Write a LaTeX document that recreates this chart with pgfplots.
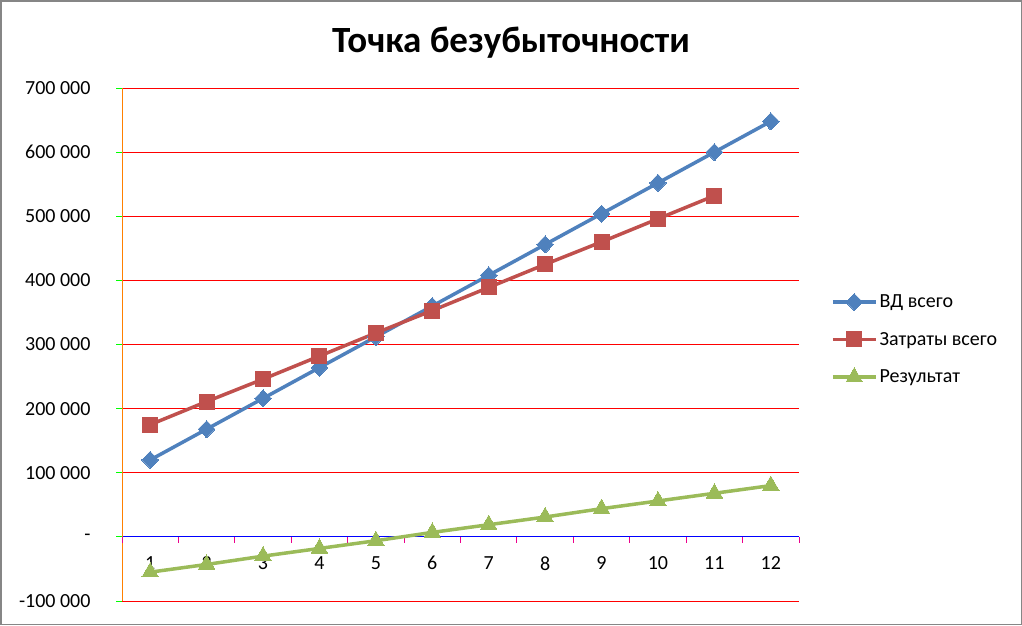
\documentclass[border=0pt]{standalone}
\usepackage{pgfplots}
\pgfplotsset{compat=1.18}
\usepackage{fontspec}
\setmainfont{Carlito}
\definecolor{cvd}{HTML}{4F81BD}
\definecolor{cz}{HTML}{C0504D}
\definecolor{cr}{HTML}{9BBB59}
\definecolor{gridc}{HTML}{868686}
\pgfplotsset{layers/labelsontop/.define layer set={axis background,axis grid,axis ticks,axis lines,main,axis tick labels,axis descriptions,axis foreground}{}}
\begin{document}
\begin{tikzpicture}
\fill[white] (0pt,0pt) rectangle (1022pt,-625pt);
\draw[gridc, line width=1.5pt] (0.75pt,-0.75pt) rectangle (1021.25pt,-624.25pt);
\node[font=\fontsize{37}{40}\selectfont\bfseries] at (511pt,-43pt) {Точка безубыточности};
\begin{axis}[
  set layers=labelsontop,
  at={(122pt,-601pt)}, anchor=south west,
  width=677pt, height=513pt, scale only axis,
  xmin=0.5, xmax=12.5, ymin=-100000, ymax=700000,
  axis x line*=middle, axis y line*=left,
  x axis line style={-, draw=blue, line width=1pt},
  y axis line style={-, draw=orange, line width=1pt},
  xtick pos=left, ytick pos=left,
  scaled y ticks=false,
  hide obscured x ticks=false, hide obscured y ticks=false,
  xtick={1,...,12},
  minor xtick={0.5,1.5,...,12.5},
  major x tick style={draw=none},
  minor x tick style={draw=none},
  y tick style={draw=green, line width=1pt},
  tick align=outside,
  major tick length=6pt, minor tick length=6pt,
  ytick={-100000,0,100000,200000,300000,400000,500000,600000,700000},
  yticklabels={-100 000,-,100 000,200 000,300 000,400 000,500 000,600 000,700 000},
  xticklabels={1,2,3,4,5,6,7,8,9,10,11,12},
  ticklabel style={font=\fontsize{20}{24}\selectfont},
  xticklabel style={yshift=-10pt},
  yticklabel style={xshift=-22pt, anchor=east},
  ymajorgrids, grid style={draw=red, line width=1pt},
  clip=false,
  legend style={at={(axis description cs:1.047,0.601)}, anchor=north west, draw=none, fill=none,
    font=\fontsize{20}{24}\selectfont, row sep=19pt, inner sep=0pt,
    nodes={inner sep=2pt}},
  legend cell align=left,
  legend image code/.code={\draw[mark repeat=2, mark phase=2, #1] plot coordinates {(0pt,0pt) (21.5pt,0pt) (43pt,0pt)};},
]
\pgfplotsinvokeforeach{0.5,1.5,2.5,3.5,4.5,5.5,6.5,7.5,8.5,9.5,10.5,11.5,12.5}{
  \draw[magenta, line width=1pt] (axis cs:#1,0) -- ++(0pt,-6pt);
}
\addplot[cvd, line width=3.5pt, mark=diamond*, mark size=8.5pt, mark options={xscale=1.3, line width=0pt, fill=cvd}] coordinates {
(1,120000)(2,168000)(3,216000)(4,264000)(5,312000)(6,360000)(7,408000)(8,456000)(9,504000)(10,552000)(11,600000)(12,648000)};
\addlegendentry{ВД всего}
\addplot[cz, line width=3.5pt, mark=square*, mark size=7.5pt, mark options={line width=0pt, fill=cz}] coordinates {
(1,175000)(2,211000)(3,246000)(4,282000)(5,318000)(6,353000)(7,389000)(8,425000)(9,460000)(10,496000)(11,532000)};
\addlegendentry{Затраты всего}
\addplot[cr, line width=3.5pt, mark=triangle*, mark size=9.5pt, mark options={line width=0pt, fill=cr}] coordinates {
(1,-55000)(2,-43000)(3,-30000)(4,-18000)(5,-6000)(6,7000)(7,19000)(8,31000)(9,44000)(10,56000)(11,68000)(12,80000)};
\addlegendentry{Результат}
\end{axis}
\end{tikzpicture}
\end{document}
